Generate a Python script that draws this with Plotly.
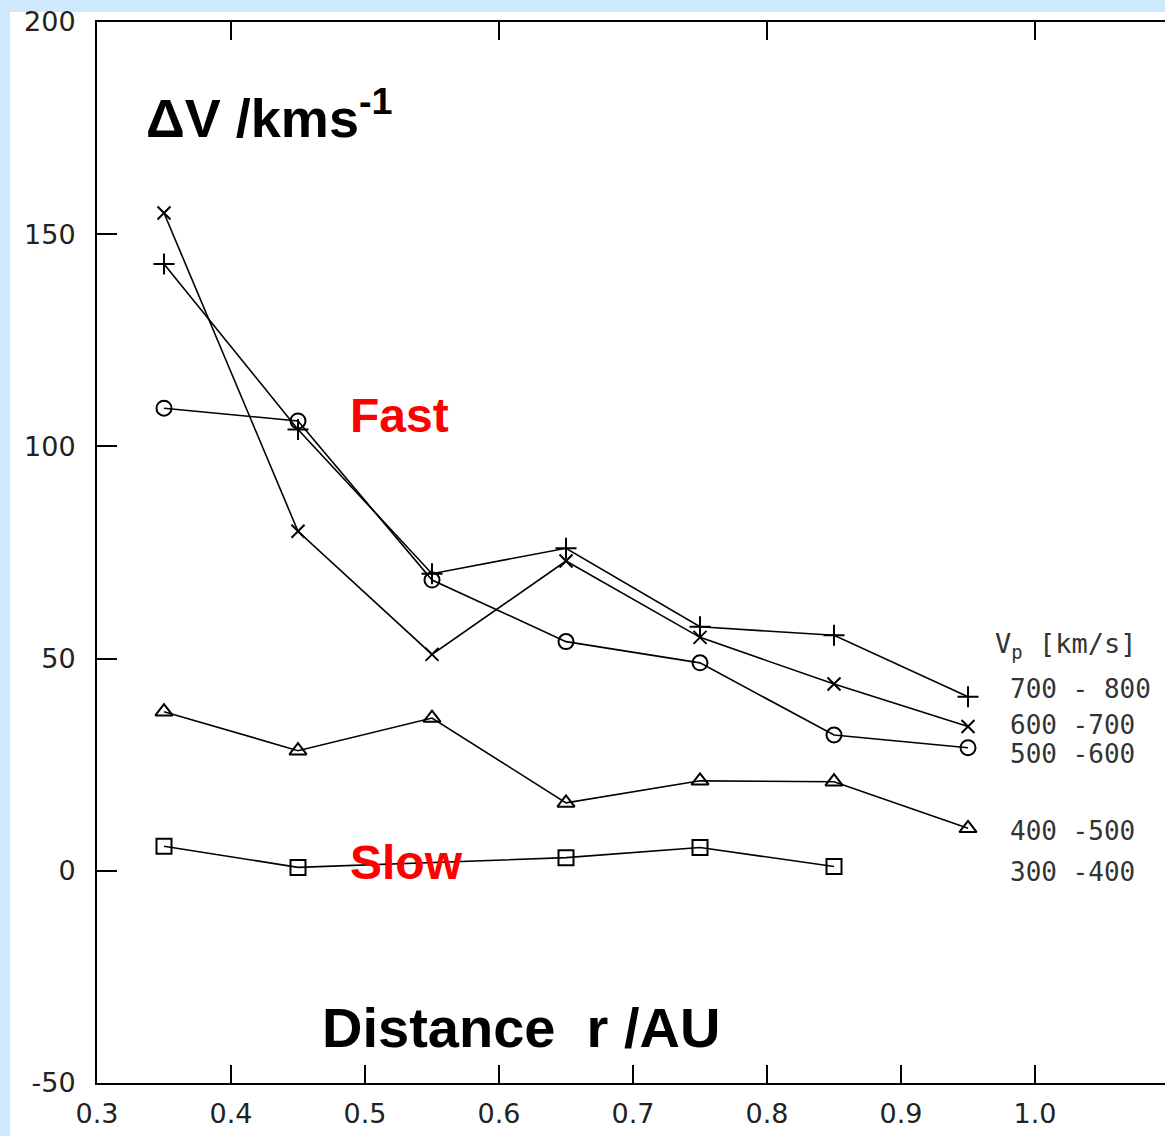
import plotly.graph_objects as go

# ---- data ----
r = [0.35, 0.45, 0.55, 0.65, 0.75, 0.85, 0.95]
dv_700_800 = [143, 104, 70, 76, 57.5, 55.5, 41]
dv_600_700 = [155, 80, 51, 73, 55, 44, 34]
dv_500_600 = [109, 106, 68.5, 54, 49, 32, 29]
dv_400_500 = [37.5, 28.3, 36, 16, 21.2, 21, 10]
r_300_400 = [0.35, 0.45, 0.65, 0.75, 0.85]
dv_300_400 = [5.8, 0.8, 3.1, 5.5, 1.0]

legend_labels = ["700 - 800", "600 -700", "500 -600", "400 -500", "300 -400"]
legend_y = [42.9, 34.4, 27.6, 9.4, -0.2]
x_ticks = [0.3, 0.4, 0.5, 0.6, 0.7, 0.8, 0.9, 1.0]
x_ticktext = ["0.3", "0.4", "0.5", "0.6", "0.7", "0.8", "0.9", "1.0"]
y_ticks = [-50, 0, 50, 100, 150, 200]
y_ticktext = ["-50", "0", "50", "100", "150", "200"]
top_ticks = [0.4, 0.6, 0.8, 1.0]

series = [
    (r, dv_700_800, "cross-thin", 15),
    (r, dv_600_700, "x-thin", 13),
    (r, dv_500_600, "circle-open", 15),
    (r, dv_400_500, "triangle-up-open", 15),
    (r_300_400, dv_300_400, "square-open", 15),
]

fig = go.Figure()
for (xs, ys, sym, sz), name in zip(series, legend_labels):
    fig.add_trace(go.Scatter(
        x=xs, y=ys, mode="lines+markers", name=name,
        line=dict(color="black", width=1.6),
        marker=dict(symbol=sym, size=sz, color="black",
                    line=dict(color="black", width=2)),
        showlegend=False,
    ))

# invisible trace for the top tick axis
fig.add_trace(go.Scatter(x=[None], y=[None], xaxis="x2", showlegend=False))

tick_font = dict(family="DejaVu Sans", size=27, color="#222222")

fig.update_layout(
    width=1165, height=1136,
    margin=dict(l=97, r=0, t=22, b=53),
    paper_bgcolor="#cde9fb",
    plot_bgcolor="white",
    xaxis=dict(
        range=[0.3, 1.097], tickvals=x_ticks, ticktext=x_ticktext,
        ticks="inside", ticklen=18, tickwidth=1.5, tickcolor="black",
        showline=True, linecolor="black", linewidth=2, mirror=True,
        showgrid=False, zeroline=False, tickfont=tick_font,
        ticklabelstandoff=6,
    ),
    xaxis2=dict(
        range=[0.3, 1.097], overlaying="x", side="top", anchor="y",
        tickvals=top_ticks, showticklabels=False,
        ticks="inside", ticklen=18, tickwidth=1.5, tickcolor="black",
        showline=False, showgrid=False, zeroline=False,
    ),
    yaxis=dict(
        range=[-50, 200], tickvals=y_ticks, ticktext=y_ticktext,
        ticks="inside", ticklen=20, tickwidth=1.5, tickcolor="black",
        showline=True, linecolor="black", linewidth=2,
        showgrid=False, zeroline=False, tickfont=tick_font,
        ticklabelstandoff=14,
    ),
    shapes=[dict(type="rect", xref="paper", yref="paper",
                 x0=-0.0815, x1=1.02, y0=-0.06, y1=1.0094,
                 fillcolor="white", line=dict(width=0), layer="below")],
)

bold = "Liberation Sans"
ann = [
    dict(x=0.429, y=178.4, text="<b>ΔV /kms<sup>-1</sup></b>",
         font=dict(family=bold, size=54, color="black")),
    dict(x=0.6164, y=-37, text="<b>Distance  r /AU</b>",
         font=dict(family=bold, size=56, color="black")),
    dict(x=0.5254, y=107.2, text="<b>Fast</b>",
         font=dict(family=bold, size=48, color="#ff0000")),
    dict(x=0.5313, y=1.9, text="<b>Slow</b>",
         font=dict(family=bold, size=48, color="#ff0000")),
    dict(x=0.9687, y=53.0, text="V<sub>p</sub> [km/s]", xanchor="left",
         font=dict(family="DejaVu Sans Mono", size=27, color="#333333")),
]
for lab, yy in zip(legend_labels, legend_y):
    ann.append(dict(x=0.980, y=yy, text=lab, xanchor="left",
                    font=dict(family="DejaVu Sans Mono", size=26, color="#333333")))
for a in ann:
    a.setdefault("xanchor", "center")
    a.update(xref="x", yref="y", showarrow=False, yanchor="middle")
fig.update_layout(annotations=ann)

fig.write_html("out.html")
